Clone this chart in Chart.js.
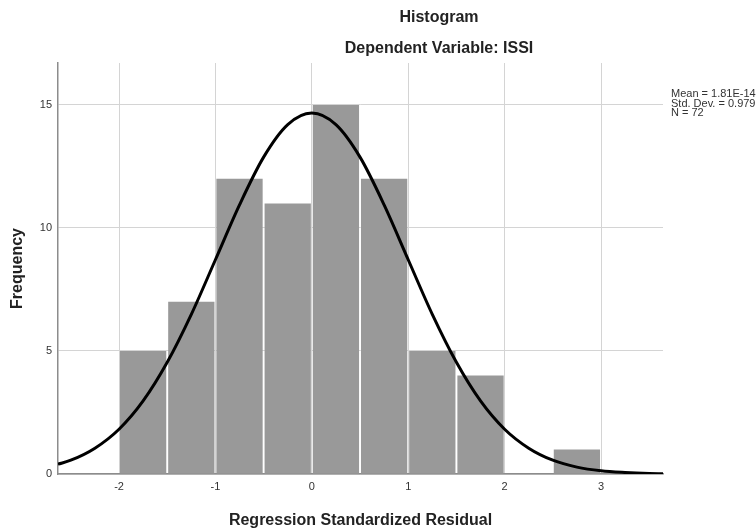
<!DOCTYPE html>
<html>

<head>
    <title>Histogram</title>
    <script src="https://cdn.jsdelivr.net/npm/chart.js"></script>
    <style>
        body {
            margin: 0;
            background: #ffffff;
        }
    </style>
</head>

<body>
    <canvas id="histChart" width="756" height="531"></canvas>

    <script>
        // histogram bins (lower edges, width 0.5) and counts
        const binStarts = [-2, -1.5, -1, -0.5, 0, 0.5, 1, 1.5, 2, 2.5];
        const binCounts = [5, 7, 12, 11, 15, 12, 5, 4, 0, 1];
        const binWidth = 0.5;

        // normal curve
        const curveX = [-2.633, -2.5, -2.25, -2, -1.75, -1.5, -1.25, -1, -0.75, -0.5, -0.25, 0,
            0.25, 0.5, 0.75, 1, 1.25, 1.5, 1.75, 2, 2.25, 2.5, 2.75, 3, 3.25, 3.5, 3.643];
        const curveY = [0.40, 0.56, 1.05, 1.82, 2.97, 4.54, 6.49, 8.71, 10.94, 12.88, 14.20, 14.67,
            14.20, 12.88, 10.94, 8.71, 6.49, 4.54, 2.97, 1.82, 1.05, 0.56, 0.28, 0.13, 0.06, 0.02, 0.01];

        const statLines = ['Mean = 1.81E-14', 'Std. Dev. = 0.979', 'N = 72'];
        const titleLines = ['Histogram', 'Dependent Variable: ISSI'];

        const barData = binStarts.map((s, i) => ({ x: s + binWidth / 2, y: binCounts[i] }));
        const lineData = curveX.map((x, i) => ({ x: x, y: curveY[i] }));

        // titles and the stats box are drawn by hand, like SPSS places them
        const textPlugin = {
            id: 'spssText',
            afterDraw(chart) {
                const c = chart.ctx;
                c.save();
                c.fillStyle = '#222';
                c.textAlign = 'center';
                c.textBaseline = 'middle';
                c.font = 'bold 16px Arial';
                c.fillText(titleLines[0], 439, 18);
                c.fillText(titleLines[1], 439, 49);

                c.fillStyle = '#333';
                c.textAlign = 'left';
                c.font = '11px Arial';
                statLines.forEach((t, i) => c.fillText(t, 671, 94 + i * 9.5));
                c.restore();
            }
        };

        const ctx = document.getElementById('histChart').getContext('2d');
        const histChart = new Chart(ctx, {
            type: 'bar',
            data: {
                datasets: [{
                    type: 'line',
                    data: lineData,
                    borderColor: '#000000',
                    borderWidth: 3,
                    pointRadius: 0,
                    cubicInterpolationMode: 'monotone',
                    fill: false,
                    order: 0
                }, {
                    type: 'bar',
                    data: barData,
                    backgroundColor: '#999999',
                    borderWidth: 0,
                    barPercentage: 0.96,
                    categoryPercentage: 1,
                    order: 1
                }]
            },
            options: {
                responsive: false,
                animation: false,
                layout: {
                    padding: { left: 4, top: 63, right: 93, bottom: 0 }
                },
                plugins: {
                    legend: { display: false },
                    tooltip: { enabled: false }
                },
                scales: {
                    x: {
                        type: 'linear',
                        min: -2.633,
                        max: 3.643,
                        offset: false,
                        afterFit: (s) => { s.height = 57; },
                        ticks: {
                            stepSize: 1,
                            includeBounds: false,
                            padding: 6,
                            color: '#333',
                            font: { family: 'Arial', size: 11 }
                        },
                        grid: { color: '#d4d4d4', drawTicks: false, offset: false },
                        border: { color: '#8c8c8c', width: 1.5 },
                        title: {
                            display: true,
                            text: 'Regression Standardized Residual',
                            color: '#222',
                            font: { family: 'Arial', size: 16, weight: 'bold' },
                            padding: { top: 0, bottom: 1 }
                        }
                    },
                    y: {
                        min: 0,
                        max: 16.707,
                        afterFit: (s) => { s.width = 54; },
                        ticks: {
                            stepSize: 5,
                            includeBounds: false,
                            padding: 6,
                            color: '#333',
                            font: { family: 'Arial', size: 11 }
                        },
                        grid: { color: '#d4d4d4', drawTicks: false },
                        border: { color: '#8c8c8c', width: 1.5 },
                        title: {
                            display: true,
                            text: 'Frequency',
                            color: '#222',
                            font: { family: 'Arial', size: 16, weight: 'bold' },
                            padding: { top: 4, bottom: 0 }
                        }
                    }
                }
            },
            plugins: [textPlugin]
        });
    </script>
</body>

</html>
